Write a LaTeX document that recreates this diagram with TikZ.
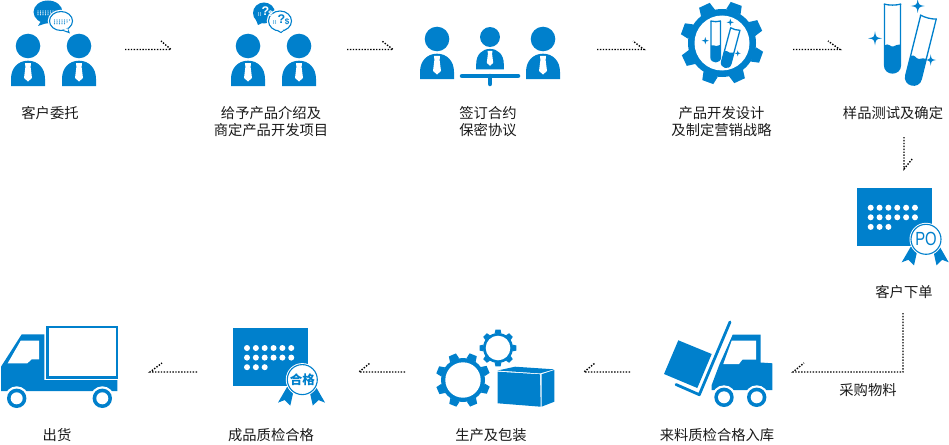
\documentclass[tikz,border=0pt]{standalone}
\usepackage{fontspec}
\setmainfont{Noto Sans CJK SC}
\newfontfamily\badgeFont{Liberation Sans}
\definecolor{iconColor}{rgb}{0,0.5,0.8}
\definecolor{textColor}{rgb}{0.1,0.1,0.1}

% person: x, y of the head, scale
\newcommand{\personIcon}[3]{
  \begin{scope}[shift={(#1,#2)},scale=#3]
    \fill[iconColor] (0,0) circle (12.3);
    \fill[iconColor] (-17,40) -- (-17,33) .. controls (-17,22) and (-10,14.7) .. (0,14.7)
      .. controls (10,14.7) and (17,22) .. (17,33) -- (17,40) -- cycle;
    \fill[white] (-3,17) -- (3,17) -- (2.6,21) -- (4,32) -- (0,35.5) -- (-4,32) -- (-2.6,21) -- cycle;
  \end{scope}
}
% gear: x, y, outer radius, root radius, hole radius, angle of first tooth
\newcommand{\gearIcon}[6]{
  \begin{scope}[shift={(#1,#2)}]
    \fill[iconColor] (0,0) circle (#4);
    \foreach \a in {0,45,...,315}
      \fill[iconColor] ({#6+\a-13}:#4) -- ({#6+\a-8}:#3) -- ({#6+\a+8}:#3) -- ({#6+\a+13}:#4) -- cycle;
    \fill[white] (0,0) circle (#5);
  \end{scope}
}
% test tube: x, y of the mouth, rotation, length, scale
\newcommand{\tubeIcon}[5]{
  \begin{scope}[shift={(#1,#2)},rotate=#3,scale=#5]
    \pgfmathsetmacro\liqY{#4*0.6}
    \pgfmathsetmacro\endY{#4-8}
    \pgfmathsetmacro\capY{#4+2.67}
    \fill[iconColor] (-8,\liqY) .. controls (-4,{\liqY-3}) and (-2,{\liqY+2}) .. (1,{\liqY+1})
      .. controls (3,{\liqY+.5}) and (5,{\liqY-1.5}) .. (8,{\liqY-1})
      -- (8,\endY) .. controls (8,\capY) and (-8,\capY) .. (-8,\endY) -- cycle;
    \draw[iconColor,line width=1.3pt] (-8,0) -- (-8,\endY) .. controls (-8,\capY) and (8,\capY) .. (8,\endY) -- (8,0);
    \draw[iconColor,line width=1.3pt] (-8.7,0) .. controls (-3,1.5) and (3,1.5) .. (8.7,0);
  \end{scope}
}
% sparkle: x, y, radius
\newcommand{\sparkIcon}[3]{
  \fill[iconColor,shift={(#1,#2)},scale=#3] (0,-1) .. controls (.14,-.14) .. (1,0)
    .. controls (.14,.14) .. (0,1) .. controls (-.14,.14) .. (-1,0) .. controls (-.14,-.14) .. (0,-1) -- cycle;
}
% certificate: x, y of the corner, then the badge node
\newcommand{\certIcon}[3]{
  \begin{scope}[shift={(#1,#2)}]
    \fill[iconColor] (0,0) rectangle (75,58);
    \foreach \r/\n in {0/5,1/5,2/2}
      \foreach \c in {0,...,\n}
        \fill[white] ({14+\c*8.85},{20+\r*9.6}) circle (3);
    \fill[iconColor] (54.3,58.6) -- (45,74.6) -- (51.6,72.1) -- (57.3,77.6) -- (60,65.6) -- cycle;
    \fill[iconColor] (82.8,58.6) -- (92,74.6) -- (85.5,72.1) -- (79.8,77.6) -- (77.1,65.6) -- cycle;
    \fill[white] (69.3,51.6) circle (16.5);
    \draw[iconColor,line width=1.1pt] (69.3,51.6) circle (15);
    \node at (69.3,51.6) #3;
  \end{scope}
}
% wheel: x, y
\newcommand{\wheelIcon}[2]{
  \fill[white] (#1,#2) circle (12);
  \fill[iconColor] (#1,#2) circle (9.7);
  \fill[white] (#1,#2) circle (6);
}

\begin{document}
\begin{tikzpicture}[x=1pt,y=-1pt]

  \tikzstyle{stepLabel} = [textColor,align=center,inner sep=0pt,font=\fontsize{14.3}{17.5}\selectfont];
  \tikzstyle{flowLine} = [black,line width=1.4pt,dash pattern=on 1.4pt off 1.5pt];
  \tikzstyle{bubbleDark} = [iconColor];
  \tikzstyle{bubbleLight} = [iconColor,fill=white,line width=1.1pt];

  \useasboundingbox (0,0) rectangle (949,444);

  % top row, customer request
  \personIcon{28}{46}{1}
  \personIcon{79}{46}{1}
  \fill[bubbleDark] (48,12) ellipse (14.5 and 11.5);
  \fill[bubbleDark] (41,21) -- (38,26) -- (47,23) -- cycle;
  \filldraw[white,line width=1.5pt] (61,21) ellipse (12.5 and 10.5);
  \draw[bubbleLight] (61,21) ellipse (11.5 and 9.5);
  \draw[bubbleLight] (63,30.3) -- (69,32.5) -- (67.5,28.5);
  \fill[white] (63.5,30) -- (67.5,28.5) -- (68,31) -- cycle;
  \foreach \r/\n in {0/6,1/5,2/4}
    \foreach \c in {0,...,\n} {
      \fill[white] ({38+\c*2.5},{11+\r*1.9}) circle (.65);
      \fill[iconColor] ({54.5+\c*2.5},{20+\r*1.9}) circle (.65);
    }

  % top row, product introduction
  \personIcon{248}{46}{1}
  \personIcon{299}{46}{1}
  \fill[bubbleDark] (264,13) ellipse (11 and 10.5);
  \fill[bubbleDark] (256,20) -- (258,25) -- (264,22) -- cycle;
  \filldraw[white,line width=1.5pt] (280,21) ellipse (12.5 and 11);
  \draw[bubbleLight] (280,21) ellipse (11.5 and 10);
  \draw[bubbleLight] (278,30.8) -- (281,32.5) -- (284,30);
  \fill[white] (278,30) -- (281,31.5) -- (284,29.5) -- cycle;
  \foreach \c/\r in {0/0,0/1,1/0,1/1} {
    \fill[white] ({258.5+\c*2},{13+\r*2}) circle (.65);
    \fill[iconColor] ({273.5+\c*2},{21+\r*2}) circle (.65);
  }
  \node[white,inner sep=0pt,font=\badgeFont\bfseries\fontsize{12.5}{12}\selectfont] (markA) at (265.5,11) {?};
  \node[white,inner sep=0pt,font=\badgeFont\bfseries\fontsize{8}{8}\selectfont] (markB) at (270.5,14) {\$};
  \node[iconColor,inner sep=0pt,font=\badgeFont\bfseries\fontsize{12.5}{12}\selectfont] (markC) at (281.5,19) {?};
  \node[iconColor,inner sep=0pt,font=\badgeFont\bfseries\fontsize{8}{8}\selectfont] (markD) at (287,22) {\$};

  % top row, contract
  \personIcon{437}{39}{1}
  \personIcon{490}{37}{0.81}
  \personIcon{543}{39}{1}
  \draw[iconColor,line width=4.5pt,line cap=round] (462,76) -- (518,76);
  \draw[iconColor,line width=4.5pt,line cap=round] (490,76) -- (490,84);

  % top row, design
  \gearIcon{722}{43}{42}{34}{27.5}{20}
  \tubeIcon{715.7}{21}{0}{68}{0.6}
  \tubeIcon{735.3}{29}{-15}{66}{0.6}
  \sparkIcon{730.3}{22.3}{3.6}
  \sparkIcon{705.3}{40.7}{3.6}
  \sparkIcon{737.7}{53.3}{3}

  % top row, samples
  \tubeIcon{892.5}{4}{0}{69}{1}
  \tubeIcon{928.5}{17}{-14}{70}{1}
  \sparkIcon{917.7}{6}{7}
  \sparkIcon{875}{38.3}{7}
  \sparkIcon{930.7}{60}{5.5}

  % order and inspection
  \certIcon{856.7}{187.7}{[iconColor,inner sep=0pt,xscale=.78,transform shape] (badgePO) {\badgeFont\fontsize{19}{19}\selectfont PO}}
  \certIcon{233}{328}{[iconColor,inner sep=0pt] (badgeOK) {\bfseries\fontsize{12.5}{13}\selectfont 合格}}

  % forklift
  \fill[iconColor] (678.3,340.3) -- (711.7,354) -- (697.3,388) -- (664,374) -- cycle;
  \draw[iconColor,line width=2.8pt,line cap=round,line join=round] (730,322) -- (699.3,394.7) -- (676,384.5);
  \fill[iconColor] (732.7,334.7) -- (760.7,334.7) -- (760.7,362.5) -- (772.3,363.3) -- (772.3,390) -- (711.7,390) -- (711.7,385) -- (719.3,364.7) -- cycle;
  \fill[white] (731.7,340.7) -- (756,340.7) -- (756,359.7) -- (742.3,359.7) -- (739,364) -- (723.3,364) -- cycle;
  \wheelIcon{724}{397.3}
  \wheelIcon{756.7}{397.3}

  % gears and carton
  \gearIcon{463}{380}{27.5}{22}{17.7}{22}
  \gearIcon{498}{348}{18.5}{15}{12.3}{0}
  \fill[iconColor] (497.7,371.7) -- (540,374.3) -- (540.7,406.7) -- (497.7,403.3) -- cycle;
  \fill[iconColor] (497.7,370.5) -- (515,366.7) -- (554,369.3) -- (540,373.4) -- cycle;
  \fill[iconColor] (541.5,374.3) -- (554.3,370) -- (554.3,401.7) -- (541.5,406.7) -- cycle;

  % truck
  \fill[iconColor] (1,366.7) -- (21.7,334.3) -- (44.3,334.3) -- (44.3,380) -- (117.3,380) -- (117.3,391) -- (1,391) -- cycle;
  \fill[white] (7.7,363.3) -- (20.7,340.7) -- (39,340.7) -- (39,359.3) -- (31.7,359.3) -- (27.3,363.3) -- cycle;
  \draw[iconColor,line width=2.6pt] (47.5,327) rectangle (117,377.5);
  \wheelIcon{16.7}{398.3}
  \wheelIcon{102.3}{398.3}

  % labels
  \node[stepLabel] (consign) at (50,113) {客户委托};
  \node[stepLabel] (intro) at (271,121.5) {给予产品介绍及\\商定产品开发项目};
  \node[stepLabel] (contract) at (488,121.5) {签订合约\\保密协议};
  \node[stepLabel] (design) at (721.5,121.5) {产品开发设计\\及制定营销战略};
  \node[stepLabel] (sample) at (893,113) {样品测试及确定};
  \node[stepLabel] (order) at (904,292) {客户下单};
  \node[stepLabel] (purchase) at (868,390) {采购物料};
  \node[stepLabel] (storage) at (717,435) {来料质检合格入库};
  \node[stepLabel] (produce) at (491,435) {生产及包装};
  \node[stepLabel] (passed) at (271,435) {成品质检合格};
  \node[stepLabel] (ship) at (57,435) {出货};

  % flow lines
  \coordinate (flowA) at (125,49.5);
  \coordinate (flowB) at (171,49.5);
  \coordinate (barbB) at (161,41);
  \coordinate (flowC) at (347,49.5);
  \coordinate (flowD) at (393,49.5);
  \coordinate (barbD) at (382,41);
  \coordinate (flowE) at (597,49.5);
  \coordinate (flowF) at (644,49.5);
  \coordinate (barbF) at (633,41);
  \coordinate (flowG) at (793,49.5);
  \coordinate (flowH) at (840,49.5);
  \coordinate (barbH) at (828,41);
  \coordinate (flowI) at (904,137);
  \coordinate (flowJ) at (904,169);
  \coordinate (barbJ) at (913,158);
  \coordinate (flowK) at (903,313);
  \coordinate (flowL) at (903,372);
  \coordinate (flowM) at (793,372);
  \coordinate (barbM) at (804,363);
  \coordinate (flowN) at (630,372);
  \coordinate (flowO) at (584,372);
  \coordinate (barbO) at (595,363);
  \coordinate (flowP) at (405,372);
  \coordinate (flowQ) at (359,372);
  \coordinate (barbQ) at (370,363);
  \coordinate (flowR) at (197,372);
  \coordinate (flowS) at (150,372);
  \coordinate (barbS) at (162,363);

  \draw[flowLine] (flowA) -- (flowB) -- (barbB);
  \draw[flowLine] (flowC) -- (flowD) -- (barbD);
  \draw[flowLine] (flowE) -- (flowF) -- (barbF);
  \draw[flowLine] (flowG) -- (flowH) -- (barbH);
  \draw[flowLine] (flowI) -- (flowJ) -- (barbJ);
  \draw[flowLine] (flowK) -- (flowL) -- (flowM) -- (barbM);
  \draw[flowLine] (flowN) -- (flowO) -- (barbO);
  \draw[flowLine] (flowP) -- (flowQ) -- (barbQ);
  \draw[flowLine] (flowR) -- (flowS) -- (barbS);

\end{tikzpicture}
\end{document}
